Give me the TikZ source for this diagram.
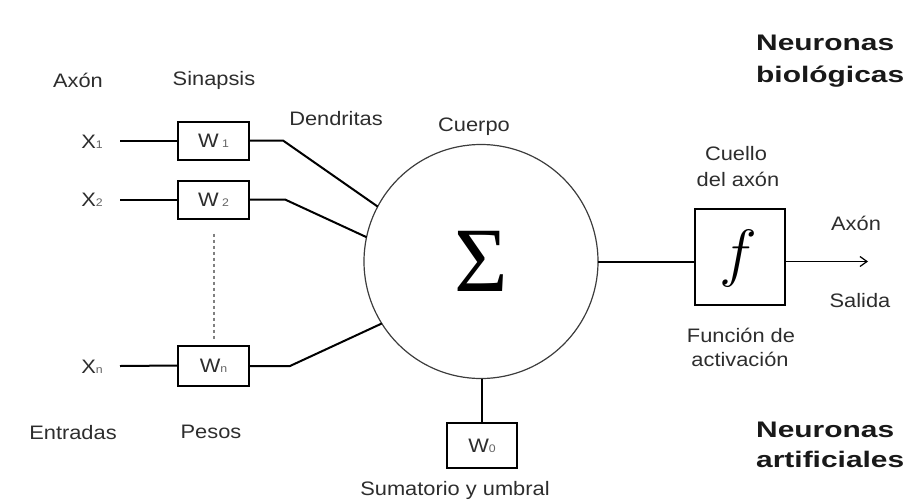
\RequirePackage{fix-cm}
\documentclass[tikz,border=0pt]{standalone}
\usepackage{fontspec}
\setmainfont{Liberation Sans}
\newfontfamily\lblfont[FakeStretch=1.12]{Liberation Sans}
\newfontfamily\headfont[FakeStretch=1.33]{Liberation Sans}
\newfontfamily\sigfont{Liberation Serif}
\usetikzlibrary{arrows.meta}
\definecolor{lbltext}{RGB}{45,45,45}
\definecolor{subtext}{RGB}{100,100,100}
\definecolor{ringcol}{RGB}{60,60,60}
\newcommand{\idx}[1]{{\fontsize{11}{11}\selectfont\color{subtext}#1}}
\tikzset{
  lbl/.style={font=\lblfont\fontsize{19.5}{23}\selectfont, text=lbltext, inner sep=0pt},
  head/.style={font=\headfont\bfseries\fontsize{22.5}{26}\selectfont, text=black!90, inner sep=0pt, anchor=west},
  wbox/.style={draw=black, line width=2pt, minimum width=71pt, minimum height=38pt, inner sep=0pt,
    font=\lblfont\fontsize{19.5}{23}\selectfont, text=lbltext},
  wire/.style={draw=black, line width=2pt},
  ring/.style={circle, draw=ringcol, line width=1.2pt, minimum size=234pt, inner sep=0pt, outer sep=0pt},
  dots/.style={draw=black!50, line width=2pt, dash pattern=on 3pt off 3pt}
}
\begin{document}
\begin{tikzpicture}[x=1pt,y=-1pt]
  \useasboundingbox (0,0) rectangle (923,501);

  % column headings and side captions
  \node[lbl] (haxon) at (78,80) {Axón};
  \node[lbl] (hsin) at (214,80) {Sinapsis};
  \node[lbl] (hden) at (336,119) {Dendritas};
  \node[lbl] (hcue) at (474,127) {Cuerpo};
  \node[lbl] (hent) at (73,433) {Entradas};
  \node[lbl] (hpes) at (211,432) {Pesos};
  \node[head] (bio1) at (756,43) {Neuronas};
  \node[head] (bio2) at (756,77) {biológicas};
  \node[head] (art1) at (756,430) {Neuronas};
  \node[head] (art2) at (756,459) {artificiales};

  % inputs
  \node[lbl] (x1) at (92,142) {X\idx{1}};
  \node[lbl] (x2) at (92,200) {X\idx{2}};
  \node[lbl] (xn) at (92,367) {X\idx{n}};
  \coordinate (s1) at (120,141);
  \coordinate (s2) at (120,199.5);
  \coordinate (sn) at (120,366);

  % weights
  \node[wbox] (w1) at (213.5,141) {W\,\idx{1}};
  \node[wbox] (w2) at (213.5,199.5) {W\,\idx{2}};
  \node[wbox, minimum height=40pt] (wn) at (213.5,365.5) {W\idx{n}};
  \draw[dots] (w2.south) ++(0,14) coordinate (dtop) -- (w2.south |- 0,340) coordinate (dbot);

  % summation body
  \node[ring] (sum) at (481,261.5) {\sigfont\fontsize{92}{92}\selectfont Σ};

  % dendrite kinks
  \coordinate (k1) at (283,140.5);
  \coordinate (k2) at (285,199.5);
  \coordinate (kn) at (290,366);

  \draw[wire] (s1) -- (w1.west);
  \draw[wire] (s2) -- (w2.west);
  \draw[wire] (sn) -- (wn.west);
  \draw[wire, line join=round] (w1.east |- k1) -- (k1) -- (sum.152);
  \draw[wire, line join=round] (w2.east |- k2) -- (k2) -- (sum.168);
  \draw[wire, line join=round] (wn.east |- kn) -- (kn) -- (sum.212);

  % threshold weight
  \node[wbox, minimum width=70pt, minimum height=45pt] (w0) at (482,445.5) {W\idx{0}};
  \draw[wire] (sum.south -| w0.north) -- (w0.north);
  \node[lbl] (humb) at (455,490) {Sumatorio y umbral};

  % activation function and output
  \node[draw=black, line width=2pt, minimum width=90pt, minimum height=96pt, inner sep=0pt] (fbox) at (740,257) {};
  \node[font=\fontsize{64}{64}\selectfont, inner sep=0pt] (fsym) at (738,258) {$f$};
  \draw[wire] (sum.east) -- (sum.east -| fbox.west);
  \coordinate (out) at (868,261.5);
  \draw[wire, line width=1.5pt, -{Straight Barb[length=7pt,width=10pt,line width=1.2pt]}] (sum.east -| fbox.east) -- (out);

  \node[lbl] (hcu1) at (736,154) {Cuello};
  \node[lbl] (hcu2) at (738,179) {del axón};
  \node[lbl] (hax2) at (856,223) {Axón};
  \node[lbl] (hsal) at (860,301) {Salida};
  \node[lbl] (hfu1) at (741,335) {Función de};
  \node[lbl] (hfu2) at (740,359) {activación};
\end{tikzpicture}
\end{document}
